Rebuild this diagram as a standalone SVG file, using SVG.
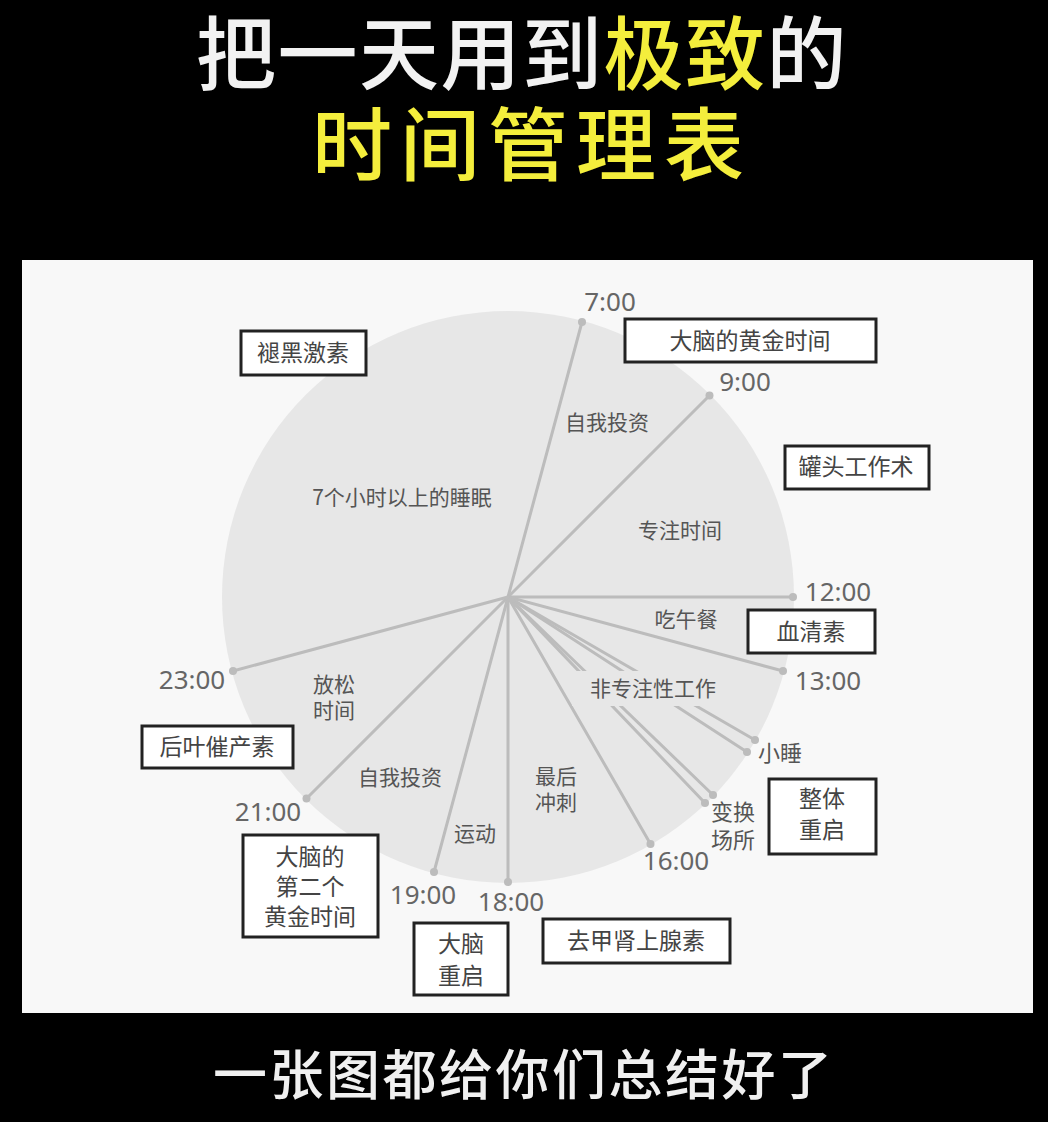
<svg xmlns="http://www.w3.org/2000/svg" width="1048" height="1122" viewBox="0 0 1048 1122">
<defs>
<style>
.title{font-family:"Noto Sans CJK SC","Noto Sans CJK JP",sans-serif;font-weight:500;font-size:80px}
.w{fill:#f2f2f2}
.y{fill:#f4ee3c}
.seg{font-family:"Noto Sans CJK SC",sans-serif;font-size:21px;fill:#555;text-anchor:middle}
.time{font-family:"Noto Sans","Noto Sans CJK SC",sans-serif;font-size:26px;fill:#666;text-anchor:middle}
.box rect{fill:#fff;stroke:#222;stroke-width:3}
.box text{font-family:"Noto Sans CJK SC",sans-serif;font-size:23px;fill:#444;text-anchor:middle}
.conn line{stroke:#bcbcbc;stroke-width:3;stroke-linecap:round}
.conn circle{fill:#bcbcbc}
</style>
</defs>
<rect width="1048" height="1122" fill="#000"/>
<g id="title">
<text class="title" x="196" y="83" letter-spacing="1.5"><tspan class="w">把一天用到</tspan><tspan class="y">极致</tspan><tspan class="w">的</tspan></text>
<text class="title y" x="312" y="174" letter-spacing="8">时间管理表</text>
</g>
<rect id="panel" x="22" y="260" width="1011" height="753" fill="#f8f8f8"/>
<circle id="pie" cx="508" cy="597" r="286" fill="#e7e7e7"/>
<g class="conn" id="connectors">
<line x1="508" y1="597" x2="582" y2="322"/><circle cx="582" cy="322" r="4"/>
<line x1="508" y1="597" x2="709.5" y2="395.5"/><circle cx="709.5" cy="395.5" r="4"/>
<line x1="508" y1="597" x2="793" y2="597"/><circle cx="793" cy="597" r="4"/>
<line x1="508" y1="597" x2="783" y2="671"/><circle cx="783" cy="671" r="4"/>
<line x1="508" y1="597" x2="755" y2="740"/><circle cx="755" cy="740" r="4"/>
<line x1="508" y1="597" x2="747" y2="752"/><circle cx="747" cy="752" r="4"/>
<line x1="508" y1="597" x2="713" y2="795"/><circle cx="713" cy="795" r="4"/>
<line x1="508" y1="597" x2="705" y2="803"/><circle cx="705" cy="803" r="4"/>
<line x1="508" y1="597" x2="650.5" y2="844"/><circle cx="650.5" cy="844" r="4"/>
<line x1="508" y1="597" x2="508" y2="882"/><circle cx="508" cy="882" r="4"/>
<line x1="508" y1="597" x2="434" y2="872"/><circle cx="434" cy="872" r="4"/>
<line x1="508" y1="597" x2="306.5" y2="798.5"/><circle cx="306.5" cy="798.5" r="4"/>
<line x1="508" y1="597" x2="233" y2="671"/><circle cx="233" cy="671" r="4"/>
</g>
<rect id="label-bg" x="572" y="671" width="162" height="35" fill="#e7e7e7"/>
<g id="segments">
<text class="seg" x="607" y="430">自我投资</text>
<text class="seg" x="402" y="505">7个小时以上的睡眠</text>
<text class="seg" x="680" y="538">专注时间</text>
<text class="seg" x="686" y="627">吃午餐</text>
<text class="seg" x="653" y="696">非专注性工作</text>
<text class="seg" x="334" y="692">放松</text>
<text class="seg" x="334" y="718">时间</text>
<text class="seg" x="400" y="785">自我投资</text>
<text class="seg" x="475" y="841">运动</text>
<text class="seg" x="556" y="784">最后</text>
<text class="seg" x="556" y="810">冲刺</text>
</g>
<g id="times">
<text class="time" x="610" y="311">7:00</text>
<text class="time" x="745" y="391">9:00</text>
<text class="time" x="838" y="601">12:00</text>
<text class="time" x="828" y="690">13:00</text>
<text class="time" x="676" y="870">16:00</text>
<text class="time" x="511" y="911">18:00</text>
<text class="time" x="423" y="904">19:00</text>
<text class="time" x="268" y="821">21:00</text>
<text class="time" x="192" y="689">23:00</text>
<text class="seg" x="780" y="761" style="font-size:22px">小睡</text>
<text class="seg" x="733" y="820" style="font-size:22px">变换</text>
<text class="seg" x="733" y="848" style="font-size:22px">场所</text>
</g>
<g class="box" id="box-melatonin"><rect x="241" y="331" width="125" height="44"/><text x="303" y="361">褪黑激素</text></g>
<g class="box" id="box-golden"><rect x="625" y="319" width="251" height="43"/><text x="750" y="349">大脑的黄金时间</text></g>
<g class="box" id="box-canned"><rect x="785" y="446" width="144" height="43"/><text x="856" y="475">罐头工作术</text></g>
<g class="box" id="box-serotonin"><rect x="748" y="610" width="127" height="43"/><text x="811" y="640">血清素</text></g>
<g class="box" id="box-reboot-all"><rect x="769" y="779" width="107" height="75"/><text x="822" y="807">整体</text><text x="822" y="838">重启</text></g>
<g class="box" id="box-oxytocin"><rect x="142" y="726" width="151" height="42"/><text x="217" y="755">后叶催产素</text></g>
<g class="box" id="box-golden2"><rect x="243" y="835" width="135" height="102"/><text x="310" y="865">大脑的</text><text x="310" y="895">第二个</text><text x="310" y="925">黄金时间</text></g>
<g class="box" id="box-brain-reboot"><rect x="414" y="923" width="94" height="72"/><text x="461" y="952">大脑</text><text x="461" y="984">重启</text></g>
<g class="box" id="box-noradrenaline"><rect x="543" y="919" width="187" height="44"/><text x="636" y="949">去甲肾上腺素</text></g>
<text id="caption" x="213" y="1095" font-family="Noto Sans CJK SC,sans-serif" font-size="54" font-weight="500" fill="#f0f0f0" letter-spacing="2.5">一张图都给你们总结好了</text>
</svg>
